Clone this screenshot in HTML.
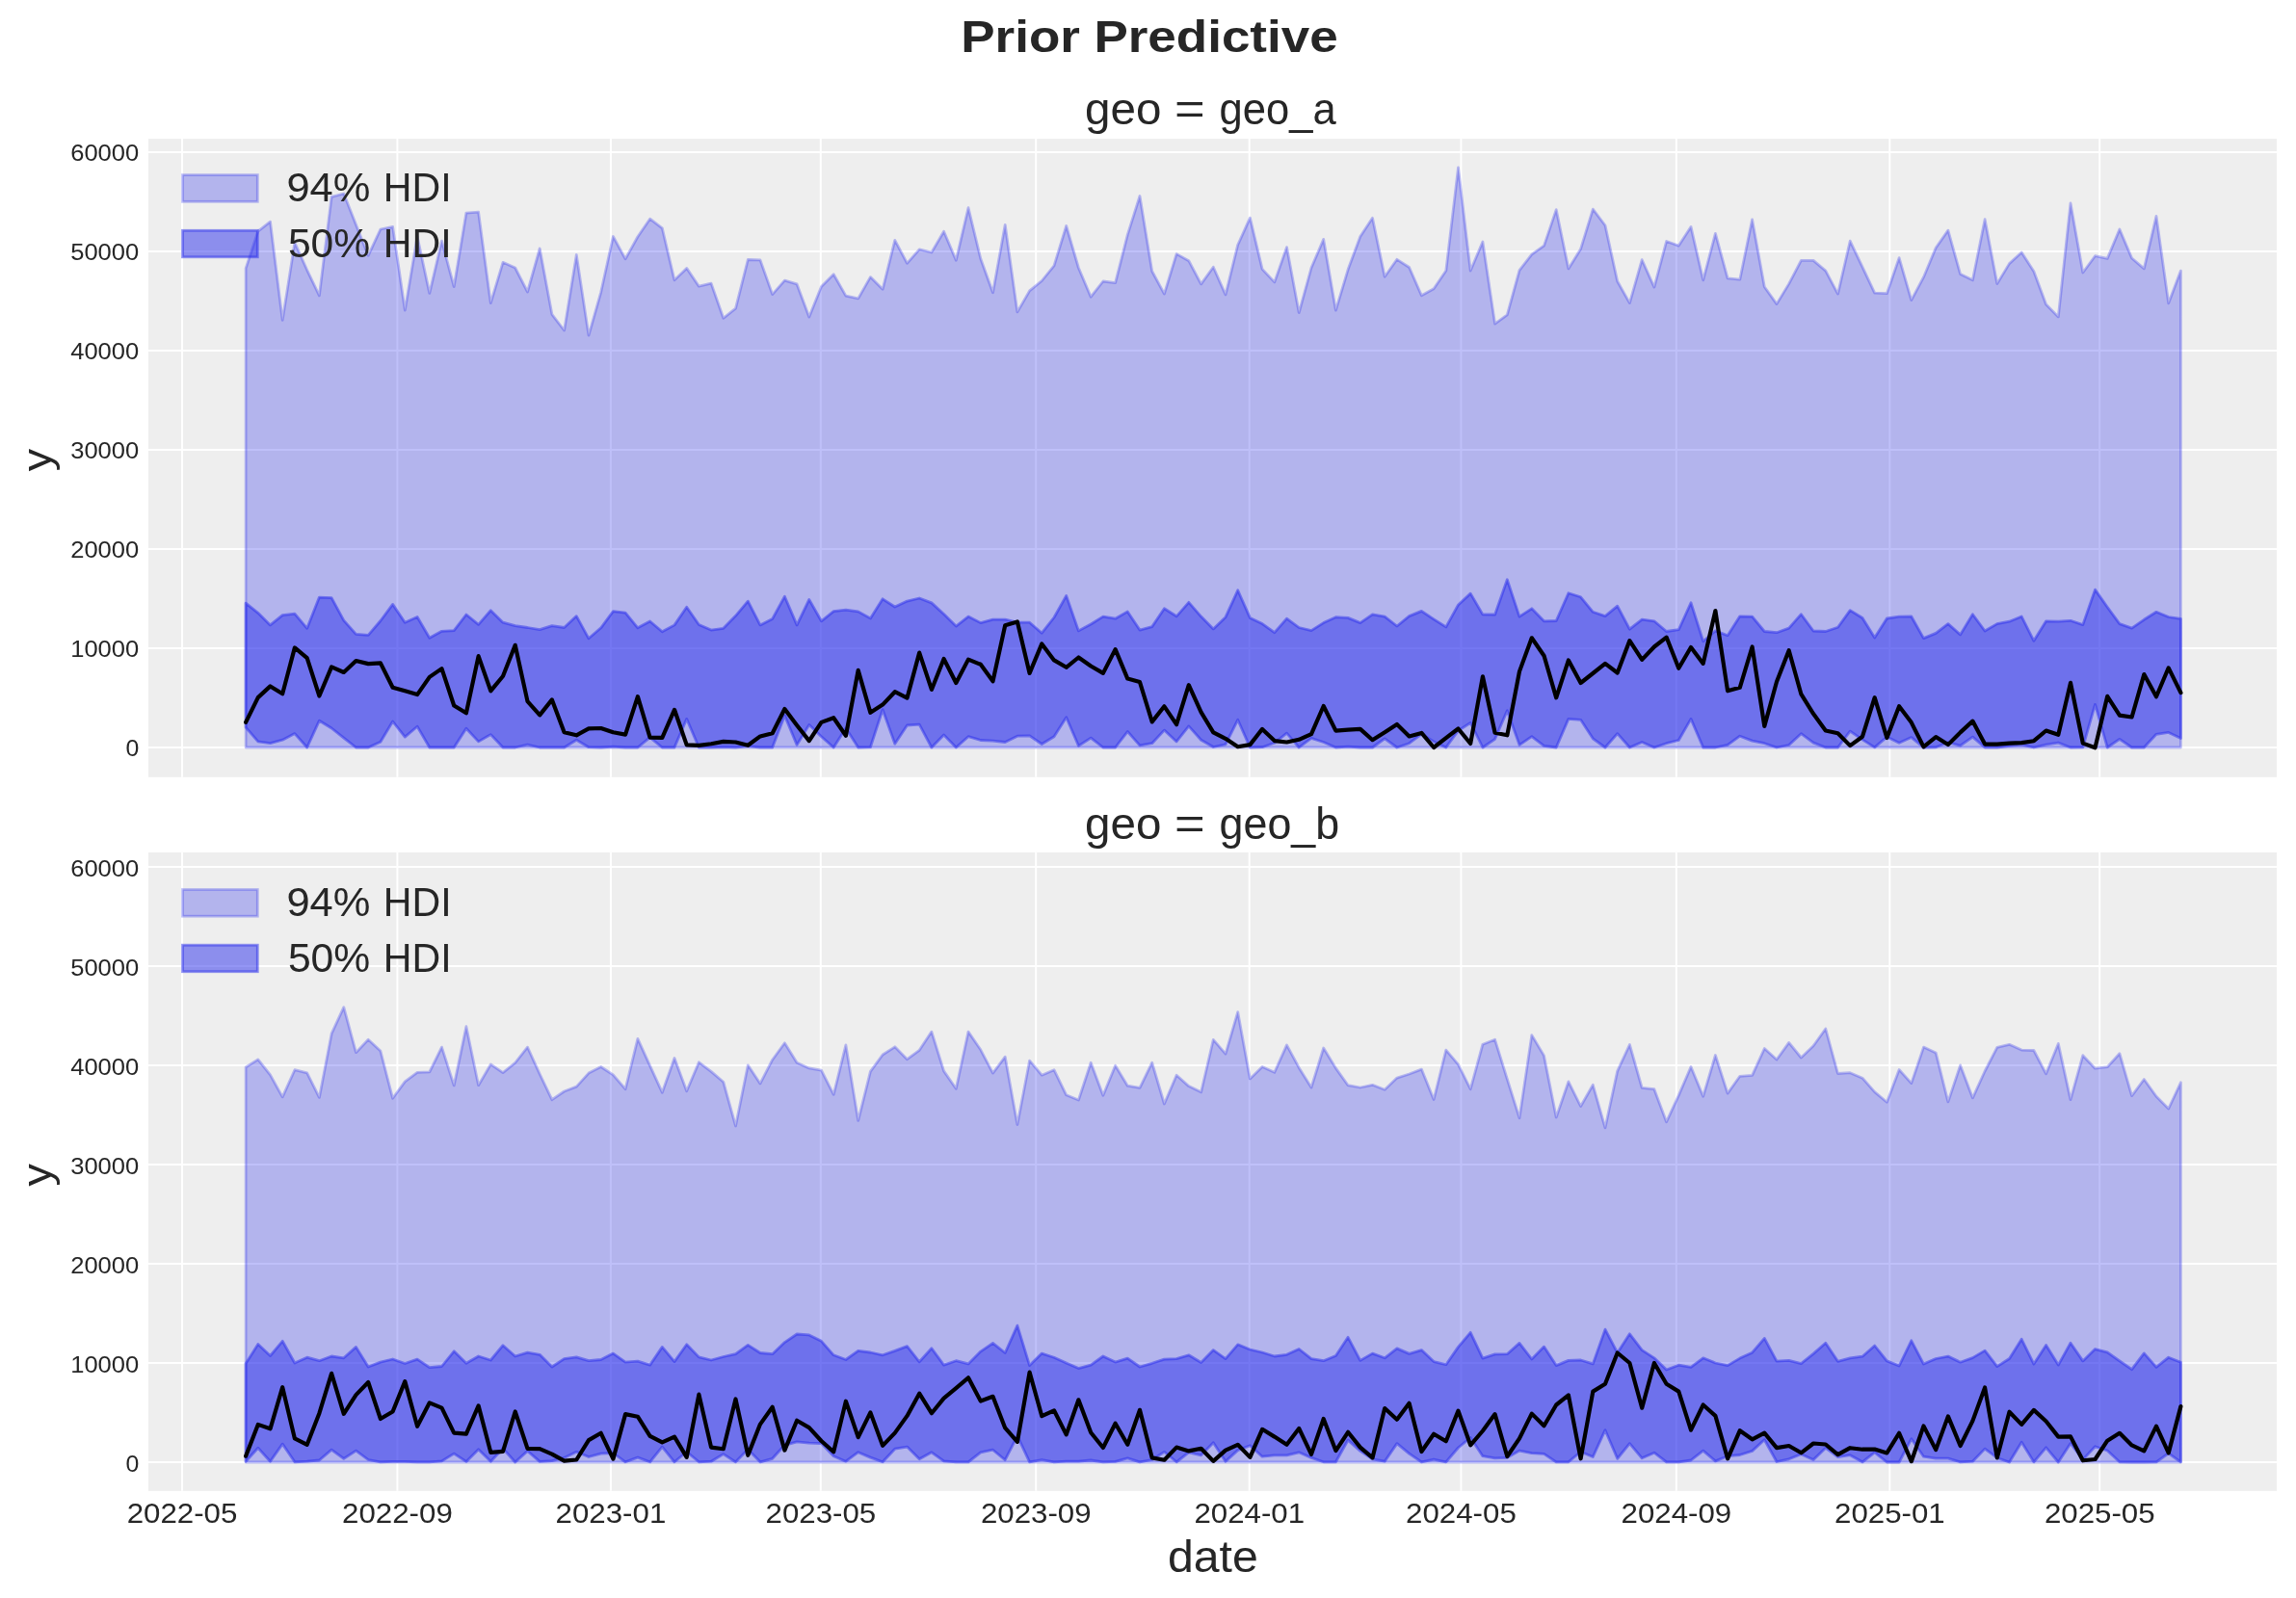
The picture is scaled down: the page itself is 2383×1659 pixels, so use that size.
<!DOCTYPE html>
<html><head><meta charset="utf-8"><title>Prior Predictive</title>
<style>html,body{margin:0;padding:0;background:#fff;overflow:hidden;}svg{display:block;will-change:transform;}text{font-family:"Liberation Sans",sans-serif;fill:#262626;}</style>
</head><body>
<svg width="2383" height="1659" viewBox="0 0 2383 1659">
<rect x="0" y="0" width="2383" height="1659" fill="#ffffff"/>
<text x="997.2" y="54.4" font-size="46" font-weight="bold" textLength="123.7" lengthAdjust="spacingAndGlyphs">Prior</text>
<text x="1135.4" y="54.4" font-size="46" font-weight="bold" textLength="253.3" lengthAdjust="spacingAndGlyphs">Predictive</text>
<g>
<rect x="154.0" y="144.1" width="2209.0" height="662.7" fill="#eeeeee"/>
<path d="M189.0,144.1 V806.8 M412.4,144.1 V806.8 M633.9,144.1 V806.8 M851.8,144.1 V806.8 M1075.2,144.1 V806.8 M1296.7,144.1 V806.8 M1516.4,144.1 V806.8 M1739.8,144.1 V806.8 M1961.3,144.1 V806.8 M2179.2,144.1 V806.8 M154.0,776.0 H2363.0 M154.0,673.0 H2363.0 M154.0,570.0 H2363.0 M154.0,467.0 H2363.0 M154.0,364.0 H2363.0 M154.0,261.0 H2363.0 M154.0,158.0 H2363.0" stroke="#ffffff" stroke-width="2.0" fill="none"/>
<clipPath id="c0"><rect x="154.0" y="144.1" width="2209.0" height="662.7"/></clipPath>
<g clip-path="url(#c0)">
<path d="M255.1,278.6 L267.8,240.2 L280.5,230.1 L293.2,332.4 L305.9,251.9 L318.7,280.3 L331.4,306.8 L344.1,204.4 L356.8,201.0 L369.5,233.3 L382.2,265.3 L394.9,238.0 L407.6,235.4 L420.3,322.0 L433.1,245.5 L445.8,304.4 L458.5,250.2 L471.2,297.6 L483.9,221.1 L496.6,220.2 L509.3,314.6 L522.0,272.3 L534.7,278.0 L547.5,303.0 L560.2,258.0 L572.9,326.3 L585.6,343.0 L598.3,264.5 L611.0,348.1 L623.7,303.3 L636.4,245.5 L649.1,268.8 L661.9,245.8 L674.6,227.2 L687.3,236.8 L700.0,290.8 L712.7,278.4 L725.4,297.2 L738.1,294.1 L750.8,330.3 L763.5,320.2 L776.3,269.5 L789.0,269.9 L801.7,305.6 L814.4,291.1 L827.1,294.9 L839.8,329.1 L852.5,297.6 L865.2,284.7 L877.9,307.1 L890.7,309.9 L903.4,287.6 L916.1,300.3 L928.8,249.3 L941.5,273.3 L954.2,258.9 L966.9,262.0 L979.6,240.2 L992.3,270.2 L1005.0,215.7 L1017.8,268.5 L1030.5,303.7 L1043.2,233.3 L1055.9,323.9 L1068.6,301.9 L1081.3,291.5 L1094.0,275.8 L1106.7,234.5 L1119.4,278.0 L1132.2,308.2 L1144.9,292.0 L1157.6,293.7 L1170.3,243.7 L1183.0,203.5 L1195.7,281.5 L1208.4,305.1 L1221.1,263.6 L1233.8,270.7 L1246.6,294.9 L1259.3,277.2 L1272.0,305.9 L1284.7,254.2 L1297.4,226.1 L1310.1,279.4 L1322.8,292.9 L1335.5,256.6 L1348.2,324.6 L1361.0,278.0 L1373.7,248.4 L1386.4,322.1 L1399.1,279.8 L1411.8,245.5 L1424.5,226.3 L1437.2,287.3 L1449.9,269.3 L1462.6,277.5 L1475.4,306.8 L1488.1,299.8 L1500.8,281.0 L1513.5,173.9 L1526.2,281.0 L1538.9,251.0 L1551.6,336.1 L1564.3,326.8 L1577.0,280.7 L1589.8,264.1 L1602.5,255.1 L1615.2,217.6 L1627.9,278.9 L1640.6,258.4 L1653.3,217.1 L1666.0,234.0 L1678.7,292.0 L1691.4,314.6 L1704.2,269.7 L1716.9,298.1 L1729.6,250.5 L1742.3,255.1 L1755.0,235.4 L1767.7,290.8 L1780.4,242.3 L1793.1,288.9 L1805.8,290.2 L1818.6,227.9 L1831.3,297.7 L1844.0,315.6 L1856.7,294.6 L1869.4,270.4 L1882.1,270.4 L1894.8,281.1 L1907.5,305.1 L1920.2,250.2 L1933.0,277.2 L1945.7,304.1 L1958.4,304.7 L1971.1,267.6 L1983.8,311.6 L1996.5,287.7 L2009.2,257.3 L2021.9,239.1 L2034.6,284.5 L2047.4,290.8 L2060.1,227.7 L2072.8,294.6 L2085.5,273.6 L2098.2,262.0 L2110.9,281.7 L2123.6,316.1 L2136.3,328.9 L2149.0,210.9 L2161.8,283.0 L2174.5,265.7 L2187.2,268.4 L2199.9,238.0 L2212.6,268.0 L2225.3,278.9 L2238.0,224.4 L2250.7,314.8 L2263.4,281.1 L2263.4,776.0 L2250.7,776.0 L2238.0,776.0 L2225.3,776.0 L2212.6,776.0 L2199.9,776.0 L2187.2,776.0 L2174.5,776.0 L2161.8,776.0 L2149.0,776.0 L2136.3,776.0 L2123.6,776.0 L2110.9,776.0 L2098.2,776.0 L2085.5,776.0 L2072.8,776.0 L2060.1,776.0 L2047.4,776.0 L2034.6,776.0 L2021.9,776.0 L2009.2,776.0 L1996.5,776.0 L1983.8,776.0 L1971.1,776.0 L1958.4,776.0 L1945.7,776.0 L1933.0,776.0 L1920.2,776.0 L1907.5,776.0 L1894.8,776.0 L1882.1,776.0 L1869.4,776.0 L1856.7,776.0 L1844.0,776.0 L1831.3,776.0 L1818.6,776.0 L1805.8,776.0 L1793.1,776.0 L1780.4,776.0 L1767.7,776.0 L1755.0,776.0 L1742.3,776.0 L1729.6,776.0 L1716.9,776.0 L1704.2,776.0 L1691.4,776.0 L1678.7,776.0 L1666.0,776.0 L1653.3,776.0 L1640.6,776.0 L1627.9,776.0 L1615.2,776.0 L1602.5,776.0 L1589.8,776.0 L1577.0,776.0 L1564.3,776.0 L1551.6,776.0 L1538.9,776.0 L1526.2,776.0 L1513.5,776.0 L1500.8,776.0 L1488.1,776.0 L1475.4,776.0 L1462.6,776.0 L1449.9,776.0 L1437.2,776.0 L1424.5,776.0 L1411.8,776.0 L1399.1,776.0 L1386.4,776.0 L1373.7,776.0 L1361.0,776.0 L1348.2,776.0 L1335.5,776.0 L1322.8,776.0 L1310.1,776.0 L1297.4,776.0 L1284.7,776.0 L1272.0,776.0 L1259.3,776.0 L1246.6,776.0 L1233.8,776.0 L1221.1,776.0 L1208.4,776.0 L1195.7,776.0 L1183.0,776.0 L1170.3,776.0 L1157.6,776.0 L1144.9,776.0 L1132.2,776.0 L1119.4,776.0 L1106.7,776.0 L1094.0,776.0 L1081.3,776.0 L1068.6,776.0 L1055.9,776.0 L1043.2,776.0 L1030.5,776.0 L1017.8,776.0 L1005.0,776.0 L992.3,776.0 L979.6,776.0 L966.9,776.0 L954.2,776.0 L941.5,776.0 L928.8,776.0 L916.1,776.0 L903.4,776.0 L890.7,776.0 L877.9,776.0 L865.2,776.0 L852.5,776.0 L839.8,776.0 L827.1,776.0 L814.4,776.0 L801.7,776.0 L789.0,776.0 L776.3,776.0 L763.5,776.0 L750.8,776.0 L738.1,776.0 L725.4,776.0 L712.7,776.0 L700.0,776.0 L687.3,776.0 L674.6,776.0 L661.9,776.0 L649.1,776.0 L636.4,776.0 L623.7,776.0 L611.0,776.0 L598.3,776.0 L585.6,776.0 L572.9,776.0 L560.2,776.0 L547.5,776.0 L534.7,776.0 L522.0,776.0 L509.3,776.0 L496.6,776.0 L483.9,776.0 L471.2,776.0 L458.5,776.0 L445.8,776.0 L433.1,776.0 L420.3,776.0 L407.6,776.0 L394.9,776.0 L382.2,776.0 L369.5,776.0 L356.8,776.0 L344.1,776.0 L331.4,776.0 L318.7,776.0 L305.9,776.0 L293.2,776.0 L280.5,776.0 L267.8,776.0 L255.1,776.0 Z" fill="rgba(42,46,236,0.3)" stroke="rgba(42,46,236,0.3)" stroke-width="2.78" stroke-linejoin="round"/>
<path d="M255.1,626.2 L267.8,636.3 L280.5,648.9 L293.2,638.7 L305.9,637.2 L318.7,652.3 L331.4,620.1 L344.1,620.6 L356.8,644.1 L369.5,658.4 L382.2,659.3 L394.9,644.5 L407.6,627.4 L420.3,646.2 L433.1,640.5 L445.8,662.3 L458.5,655.3 L471.2,654.6 L483.9,638.0 L496.6,648.3 L509.3,633.7 L522.0,646.2 L534.7,649.7 L547.5,651.5 L560.2,653.7 L572.9,649.7 L585.6,651.5 L598.3,639.6 L611.0,662.8 L623.7,651.8 L636.4,634.6 L649.1,636.1 L661.9,651.8 L674.6,645.0 L687.3,655.8 L700.0,648.9 L712.7,630.2 L725.4,648.5 L738.1,654.1 L750.8,652.3 L763.5,639.3 L776.3,624.1 L789.0,648.9 L801.7,642.4 L814.4,619.2 L827.1,648.9 L839.8,622.4 L852.5,644.8 L865.2,634.6 L877.9,633.2 L890.7,634.9 L903.4,641.9 L916.1,621.8 L928.8,630.0 L941.5,624.1 L954.2,621.0 L966.9,625.9 L979.6,637.5 L992.3,650.1 L1005.0,640.1 L1017.8,646.6 L1030.5,643.1 L1043.2,643.1 L1055.9,646.2 L1068.6,646.2 L1081.3,657.2 L1094.0,641.0 L1106.7,618.4 L1119.4,654.9 L1132.2,648.0 L1144.9,640.1 L1157.6,642.2 L1170.3,634.9 L1183.0,654.1 L1195.7,650.6 L1208.4,631.8 L1221.1,639.8 L1233.8,625.3 L1246.6,640.1 L1259.3,652.9 L1272.0,640.7 L1284.7,612.8 L1297.4,641.4 L1310.1,647.6 L1322.8,656.7 L1335.5,642.2 L1348.2,651.5 L1361.0,654.6 L1373.7,646.6 L1386.4,640.7 L1399.1,641.4 L1411.8,646.6 L1424.5,637.9 L1437.2,640.1 L1449.9,650.0 L1462.6,639.6 L1475.4,634.4 L1488.1,642.8 L1500.8,650.9 L1513.5,627.9 L1526.2,616.1 L1538.9,637.9 L1551.6,638.0 L1564.3,601.8 L1577.0,640.1 L1589.8,631.8 L1602.5,644.8 L1615.2,644.5 L1627.9,615.7 L1640.6,619.8 L1653.3,635.3 L1666.0,639.6 L1678.7,629.2 L1691.4,653.2 L1704.2,643.1 L1716.9,644.8 L1729.6,655.5 L1742.3,653.7 L1755.0,625.7 L1767.7,665.7 L1780.4,654.9 L1793.1,659.7 L1805.8,639.8 L1818.6,640.1 L1831.3,655.5 L1844.0,656.7 L1856.7,652.1 L1869.4,637.7 L1882.1,655.0 L1894.8,655.5 L1907.5,651.2 L1920.2,633.6 L1933.0,641.5 L1945.7,662.1 L1958.4,642.0 L1971.1,640.2 L1983.8,640.0 L1996.5,662.6 L2009.2,657.4 L2021.9,647.6 L2034.6,658.9 L2047.4,637.7 L2060.1,655.0 L2072.8,647.6 L2085.5,645.2 L2098.2,640.0 L2110.9,665.3 L2123.6,644.8 L2136.3,645.2 L2149.0,644.3 L2161.8,648.6 L2174.5,612.1 L2187.2,630.2 L2199.9,647.6 L2212.6,652.1 L2225.3,643.3 L2238.0,635.3 L2250.7,640.5 L2263.4,642.4 L2263.4,766.6 L2250.7,760.4 L2238.0,762.3 L2225.3,776.0 L2212.6,776.0 L2199.9,767.3 L2187.2,776.0 L2174.5,731.4 L2161.8,775.8 L2149.0,776.0 L2136.3,771.1 L2123.6,773.1 L2110.9,776.0 L2098.2,773.1 L2085.5,774.4 L2072.8,776.0 L2060.1,776.0 L2047.4,765.1 L2034.6,774.1 L2021.9,770.7 L2009.2,775.8 L1996.5,776.0 L1983.8,765.6 L1971.1,771.3 L1958.4,765.1 L1945.7,775.9 L1933.0,767.9 L1920.2,759.1 L1907.5,776.0 L1894.8,776.0 L1882.1,771.1 L1869.4,761.7 L1856.7,773.5 L1844.0,776.0 L1831.3,771.7 L1818.6,769.1 L1805.8,764.2 L1793.1,773.4 L1780.4,776.0 L1767.7,776.0 L1755.0,746.4 L1742.3,768.5 L1729.6,771.7 L1716.9,776.0 L1704.2,770.5 L1691.4,776.0 L1678.7,761.6 L1666.0,776.0 L1653.3,766.8 L1640.6,747.3 L1627.9,746.4 L1615.2,776.0 L1602.5,774.3 L1589.8,764.7 L1577.0,773.4 L1564.3,737.7 L1551.6,767.3 L1538.9,776.0 L1526.2,750.4 L1513.5,758.6 L1500.8,776.0 L1488.1,769.9 L1475.4,762.1 L1462.6,771.7 L1449.9,776.0 L1437.2,766.8 L1424.5,776.0 L1411.8,776.0 L1399.1,775.2 L1386.4,776.0 L1373.7,770.5 L1361.0,766.4 L1348.2,776.0 L1335.5,761.2 L1322.8,771.3 L1310.1,775.7 L1297.4,776.0 L1284.7,747.3 L1272.0,772.9 L1259.3,775.5 L1246.6,768.2 L1233.8,753.9 L1221.1,769.9 L1208.4,758.1 L1195.7,771.7 L1183.0,773.9 L1170.3,759.5 L1157.6,776.0 L1144.9,776.0 L1132.2,766.1 L1119.4,774.3 L1106.7,744.7 L1094.0,764.7 L1081.3,772.5 L1068.6,763.8 L1055.9,764.2 L1043.2,770.5 L1030.5,769.1 L1017.8,768.5 L1005.0,764.7 L992.3,776.0 L979.6,763.0 L966.9,776.0 L954.2,752.2 L941.5,753.0 L928.8,772.2 L916.1,736.8 L903.4,775.7 L890.7,776.0 L877.9,756.0 L865.2,776.0 L852.5,764.7 L839.8,752.5 L827.1,773.4 L814.4,742.9 L801.7,776.0 L789.0,776.0 L776.3,774.6 L763.5,776.0 L750.8,775.7 L738.1,776.0 L725.4,776.0 L712.7,746.4 L700.0,776.0 L687.3,776.0 L674.6,765.6 L661.9,776.0 L649.1,776.0 L636.4,775.2 L623.7,776.0 L611.0,775.7 L598.3,768.2 L585.6,776.0 L572.9,776.0 L560.2,776.0 L547.5,773.1 L534.7,776.0 L522.0,776.0 L509.3,762.6 L496.6,769.9 L483.9,756.3 L471.2,776.0 L458.5,776.0 L445.8,776.0 L433.1,754.3 L420.3,765.1 L407.6,749.0 L394.9,770.3 L382.2,776.0 L369.5,776.0 L356.8,766.1 L344.1,756.0 L331.4,748.2 L318.7,776.0 L305.9,761.6 L293.2,768.2 L280.5,771.7 L267.8,769.9 L255.1,755.1 Z" fill="rgba(42,46,236,0.5)" stroke="rgba(42,46,236,0.5)" stroke-width="2.78" stroke-linejoin="round"/>
<path d="M255.1,749.9 L267.8,724.1 L280.5,712.4 L293.2,720.3 L305.9,672.4 L318.7,683.2 L331.4,722.5 L344.1,692.4 L356.8,698.0 L369.5,686.0 L382.2,689.1 L394.9,688.4 L407.6,713.7 L420.3,717.3 L433.1,721.1 L445.8,702.9 L458.5,694.1 L471.2,732.5 L483.9,740.3 L496.6,681.1 L509.3,717.3 L522.0,702.0 L534.7,669.8 L547.5,728.1 L560.2,742.4 L572.9,726.4 L585.6,760.3 L598.3,763.3 L611.0,756.3 L623.7,756.0 L636.4,760.3 L649.1,762.6 L661.9,723.2 L674.6,765.6 L687.3,765.9 L700.0,736.8 L712.7,773.4 L725.4,773.9 L738.1,772.2 L750.8,769.9 L763.5,770.5 L776.3,773.8 L789.0,764.4 L801.7,761.2 L814.4,736.0 L827.1,752.9 L839.8,769.1 L852.5,749.9 L865.2,745.2 L877.9,763.8 L890.7,695.9 L903.4,739.8 L916.1,731.6 L928.8,718.2 L941.5,724.6 L954.2,677.6 L966.9,715.9 L979.6,684.0 L992.3,709.0 L1005.0,684.6 L1017.8,689.8 L1030.5,707.2 L1043.2,649.2 L1055.9,645.4 L1068.6,698.9 L1081.3,668.4 L1094.0,685.4 L1106.7,692.8 L1119.4,682.5 L1132.2,691.5 L1144.9,698.9 L1157.6,674.1 L1170.3,704.6 L1183.0,708.1 L1195.7,749.4 L1208.4,733.3 L1221.1,752.2 L1233.8,711.2 L1246.6,739.4 L1259.3,760.3 L1272.0,766.8 L1284.7,775.2 L1297.4,773.1 L1310.1,756.9 L1322.8,769.1 L1335.5,770.5 L1348.2,767.8 L1361.0,762.1 L1373.7,733.0 L1386.4,758.6 L1399.1,757.7 L1411.8,756.9 L1424.5,768.2 L1437.2,760.3 L1449.9,751.9 L1462.6,764.4 L1475.4,760.9 L1488.1,776.0 L1500.8,766.1 L1513.5,756.5 L1526.2,772.0 L1538.9,702.3 L1551.6,760.7 L1564.3,763.3 L1577.0,697.1 L1589.8,662.3 L1602.5,680.7 L1615.2,724.3 L1627.9,685.4 L1640.6,709.0 L1653.3,699.0 L1666.0,688.9 L1678.7,698.5 L1691.4,665.1 L1704.2,684.9 L1716.9,671.5 L1729.6,661.6 L1742.3,693.8 L1755.0,672.0 L1767.7,688.9 L1780.4,634.0 L1793.1,717.3 L1805.8,713.8 L1818.6,671.5 L1831.3,753.9 L1844.0,707.8 L1856.7,675.2 L1869.4,720.7 L1882.1,741.1 L1894.8,758.5 L1907.5,761.3 L1920.2,774.1 L1933.0,764.7 L1945.7,724.2 L1958.4,766.0 L1971.1,733.2 L1983.8,750.1 L1996.5,775.4 L2009.2,765.1 L2021.9,773.1 L2034.6,760.4 L2047.4,748.6 L2060.1,772.6 L2072.8,772.6 L2085.5,771.6 L2098.2,771.1 L2110.9,769.2 L2123.6,758.5 L2136.3,762.8 L2149.0,708.9 L2161.8,771.6 L2174.5,776.3 L2187.2,722.9 L2199.9,742.6 L2212.6,744.5 L2225.3,700.1 L2238.0,723.3 L2250.7,693.3 L2263.4,719.2" fill="none" stroke="#000000" stroke-width="4.17" stroke-linejoin="round" stroke-linecap="round"/>
</g>
<rect x="189.5" y="181.6" width="77.8" height="27.7" fill="rgba(42,46,236,0.3)" stroke="rgba(42,46,236,0.3)" stroke-width="2.78"/>
<rect x="189.5" y="239.3" width="77.8" height="27.5" fill="rgba(42,46,236,0.5)" stroke="rgba(42,46,236,0.5)" stroke-width="2.78"/>
<text x="297.4" y="209.3" font-size="42.4" textLength="86.9" lengthAdjust="spacingAndGlyphs">94%</text>
<text x="397.7" y="209.3" font-size="42.4" textLength="70.9" lengthAdjust="spacingAndGlyphs">HDI</text>
<text x="298.9" y="267.2" font-size="42.4" textLength="85.3" lengthAdjust="spacingAndGlyphs">50%</text>
<text x="397.7" y="267.2" font-size="42.4" textLength="70.9" lengthAdjust="spacingAndGlyphs">HDI</text>
<text x="1126.0" y="128.6" font-size="46" textLength="79.4" lengthAdjust="spacingAndGlyphs">geo</text>
<text x="1219.1" y="128.6" font-size="46" textLength="31.7" lengthAdjust="spacingAndGlyphs">=</text>
<text x="1265.6" y="128.6" font-size="46" textLength="121.1" lengthAdjust="spacingAndGlyphs">geo_a</text>
<text x="130.4" y="785.0" font-size="23.6" textLength="13.8" lengthAdjust="spacingAndGlyphs">0</text>
<text x="73.2" y="682.0" font-size="23.6" textLength="71.0" lengthAdjust="spacingAndGlyphs">10000</text>
<text x="73.2" y="579.0" font-size="23.6" textLength="71.0" lengthAdjust="spacingAndGlyphs">20000</text>
<text x="73.2" y="476.0" font-size="23.6" textLength="71.0" lengthAdjust="spacingAndGlyphs">30000</text>
<text x="73.2" y="373.0" font-size="23.6" textLength="71.0" lengthAdjust="spacingAndGlyphs">40000</text>
<text x="73.2" y="270.0" font-size="23.6" textLength="71.0" lengthAdjust="spacingAndGlyphs">50000</text>
<text x="73.2" y="167.0" font-size="23.6" textLength="71.0" lengthAdjust="spacingAndGlyphs">60000</text>
<text transform="translate(52.7,477.6) rotate(-90) scale(1.014,0.92)" font-size="46" text-anchor="middle">y</text>
</g>
<g>
<rect x="154.0" y="884.9" width="2209.0" height="662.9" fill="#eeeeee"/>
<path d="M189.0,884.9 V1547.8 M412.4,884.9 V1547.8 M633.9,884.9 V1547.8 M851.8,884.9 V1547.8 M1075.2,884.9 V1547.8 M1296.7,884.9 V1547.8 M1516.4,884.9 V1547.8 M1739.8,884.9 V1547.8 M1961.3,884.9 V1547.8 M2179.2,884.9 V1547.8 M154.0,1518.0 H2363.0 M154.0,1415.0 H2363.0 M154.0,1312.0 H2363.0 M154.0,1209.0 H2363.0 M154.0,1106.0 H2363.0 M154.0,1003.0 H2363.0 M154.0,900.0 H2363.0" stroke="#ffffff" stroke-width="2.0" fill="none"/>
<clipPath id="c1"><rect x="154.0" y="884.9" width="2209.0" height="662.9"/></clipPath>
<g clip-path="url(#c1)">
<path d="M255.1,1108.0 L267.8,1099.9 L280.5,1115.9 L293.2,1138.9 L305.9,1110.7 L318.7,1113.8 L331.4,1139.4 L344.1,1073.2 L356.8,1045.7 L369.5,1092.7 L382.2,1079.3 L394.9,1091.0 L407.6,1140.3 L420.3,1122.9 L433.1,1113.3 L445.8,1112.9 L458.5,1087.1 L471.2,1126.9 L483.9,1065.7 L496.6,1126.7 L509.3,1104.9 L522.0,1113.6 L534.7,1103.3 L547.5,1087.1 L560.2,1115.0 L572.9,1141.7 L585.6,1133.0 L598.3,1128.1 L611.0,1114.1 L623.7,1107.5 L636.4,1115.9 L649.1,1130.7 L661.9,1078.4 L674.6,1106.3 L687.3,1134.2 L700.0,1098.5 L712.7,1132.8 L725.4,1102.8 L738.1,1112.4 L750.8,1123.2 L763.5,1169.0 L776.3,1105.8 L789.0,1124.9 L801.7,1100.2 L814.4,1082.8 L827.1,1103.3 L839.8,1108.9 L852.5,1111.2 L865.2,1136.3 L877.9,1084.9 L890.7,1163.4 L903.4,1112.4 L916.1,1095.0 L928.8,1086.8 L941.5,1099.7 L954.2,1090.3 L966.9,1071.1 L979.6,1111.9 L992.3,1130.3 L1005.0,1071.1 L1017.8,1089.8 L1030.5,1114.1 L1043.2,1097.1 L1055.9,1167.6 L1068.6,1101.1 L1081.3,1116.2 L1094.0,1110.7 L1106.7,1136.8 L1119.4,1142.0 L1132.2,1103.2 L1144.9,1137.3 L1157.6,1106.3 L1170.3,1127.2 L1183.0,1129.3 L1195.7,1103.2 L1208.4,1146.0 L1221.1,1116.2 L1233.8,1127.6 L1246.6,1133.8 L1259.3,1079.3 L1272.0,1094.1 L1284.7,1050.6 L1297.4,1119.9 L1310.1,1107.5 L1322.8,1113.3 L1335.5,1084.9 L1348.2,1108.4 L1361.0,1129.0 L1373.7,1088.0 L1386.4,1108.9 L1399.1,1126.7 L1411.8,1129.0 L1424.5,1126.3 L1437.2,1131.2 L1449.9,1119.1 L1462.6,1115.0 L1475.4,1110.1 L1488.1,1141.5 L1500.8,1090.1 L1513.5,1105.1 L1526.2,1130.7 L1538.9,1084.2 L1551.6,1079.3 L1564.3,1120.2 L1577.0,1160.7 L1589.8,1074.6 L1602.5,1095.9 L1615.2,1160.0 L1627.9,1122.9 L1640.6,1148.5 L1653.3,1126.3 L1666.0,1170.8 L1678.7,1111.9 L1691.4,1084.5 L1704.2,1129.3 L1716.9,1130.7 L1729.6,1164.7 L1742.3,1137.1 L1755.0,1107.5 L1767.7,1138.2 L1780.4,1095.5 L1793.1,1135.1 L1805.8,1117.3 L1818.6,1116.4 L1831.3,1088.5 L1844.0,1100.0 L1856.7,1082.4 L1869.4,1098.0 L1882.1,1085.8 L1894.8,1068.0 L1907.5,1114.5 L1920.2,1113.7 L1933.0,1119.2 L1945.7,1133.6 L1958.4,1144.2 L1971.1,1110.5 L1983.8,1124.6 L1996.5,1087.1 L2009.2,1092.9 L2021.9,1143.9 L2034.6,1105.9 L2047.4,1139.8 L2060.1,1112.0 L2072.8,1087.3 L2085.5,1084.3 L2098.2,1090.1 L2110.9,1090.5 L2123.6,1114.8 L2136.3,1083.4 L2149.0,1141.6 L2161.8,1095.7 L2174.5,1109.2 L2187.2,1107.7 L2199.9,1093.7 L2212.6,1137.7 L2225.3,1120.5 L2238.0,1138.3 L2250.7,1151.0 L2263.4,1123.8 L2263.4,1518.0 L2250.7,1518.0 L2238.0,1518.0 L2225.3,1518.0 L2212.6,1518.0 L2199.9,1518.0 L2187.2,1518.0 L2174.5,1518.0 L2161.8,1518.0 L2149.0,1518.0 L2136.3,1518.0 L2123.6,1518.0 L2110.9,1518.0 L2098.2,1518.0 L2085.5,1518.0 L2072.8,1518.0 L2060.1,1518.0 L2047.4,1518.0 L2034.6,1518.0 L2021.9,1518.0 L2009.2,1518.0 L1996.5,1518.0 L1983.8,1518.0 L1971.1,1518.0 L1958.4,1518.0 L1945.7,1518.0 L1933.0,1518.0 L1920.2,1518.0 L1907.5,1518.0 L1894.8,1518.0 L1882.1,1518.0 L1869.4,1518.0 L1856.7,1518.0 L1844.0,1518.0 L1831.3,1518.0 L1818.6,1518.0 L1805.8,1518.0 L1793.1,1518.0 L1780.4,1518.0 L1767.7,1518.0 L1755.0,1518.0 L1742.3,1518.0 L1729.6,1518.0 L1716.9,1518.0 L1704.2,1518.0 L1691.4,1518.0 L1678.7,1518.0 L1666.0,1518.0 L1653.3,1518.0 L1640.6,1518.0 L1627.9,1518.0 L1615.2,1518.0 L1602.5,1518.0 L1589.8,1518.0 L1577.0,1518.0 L1564.3,1518.0 L1551.6,1518.0 L1538.9,1518.0 L1526.2,1518.0 L1513.5,1518.0 L1500.8,1518.0 L1488.1,1518.0 L1475.4,1518.0 L1462.6,1518.0 L1449.9,1518.0 L1437.2,1518.0 L1424.5,1518.0 L1411.8,1518.0 L1399.1,1518.0 L1386.4,1518.0 L1373.7,1518.0 L1361.0,1518.0 L1348.2,1518.0 L1335.5,1518.0 L1322.8,1518.0 L1310.1,1518.0 L1297.4,1518.0 L1284.7,1518.0 L1272.0,1518.0 L1259.3,1518.0 L1246.6,1518.0 L1233.8,1518.0 L1221.1,1518.0 L1208.4,1518.0 L1195.7,1518.0 L1183.0,1518.0 L1170.3,1518.0 L1157.6,1518.0 L1144.9,1518.0 L1132.2,1518.0 L1119.4,1518.0 L1106.7,1518.0 L1094.0,1518.0 L1081.3,1518.0 L1068.6,1518.0 L1055.9,1518.0 L1043.2,1518.0 L1030.5,1518.0 L1017.8,1518.0 L1005.0,1518.0 L992.3,1518.0 L979.6,1518.0 L966.9,1518.0 L954.2,1518.0 L941.5,1518.0 L928.8,1518.0 L916.1,1518.0 L903.4,1518.0 L890.7,1518.0 L877.9,1518.0 L865.2,1518.0 L852.5,1518.0 L839.8,1518.0 L827.1,1518.0 L814.4,1518.0 L801.7,1518.0 L789.0,1518.0 L776.3,1518.0 L763.5,1518.0 L750.8,1518.0 L738.1,1518.0 L725.4,1518.0 L712.7,1518.0 L700.0,1518.0 L687.3,1518.0 L674.6,1518.0 L661.9,1518.0 L649.1,1518.0 L636.4,1518.0 L623.7,1518.0 L611.0,1518.0 L598.3,1518.0 L585.6,1518.0 L572.9,1518.0 L560.2,1518.0 L547.5,1518.0 L534.7,1518.0 L522.0,1518.0 L509.3,1518.0 L496.6,1518.0 L483.9,1518.0 L471.2,1518.0 L458.5,1518.0 L445.8,1518.0 L433.1,1518.0 L420.3,1518.0 L407.6,1518.0 L394.9,1518.0 L382.2,1518.0 L369.5,1518.0 L356.8,1518.0 L344.1,1518.0 L331.4,1518.0 L318.7,1518.0 L305.9,1518.0 L293.2,1518.0 L280.5,1518.0 L267.8,1518.0 L255.1,1518.0 Z" fill="rgba(42,46,236,0.3)" stroke="rgba(42,46,236,0.3)" stroke-width="2.78" stroke-linejoin="round"/>
<path d="M255.1,1415.5 L267.8,1395.5 L280.5,1407.5 L293.2,1392.3 L305.9,1415.0 L318.7,1409.2 L331.4,1412.7 L344.1,1408.0 L356.8,1409.8 L369.5,1398.4 L382.2,1419.0 L394.9,1414.1 L407.6,1411.0 L420.3,1415.5 L433.1,1411.1 L445.8,1419.7 L458.5,1418.5 L471.2,1402.8 L483.9,1415.3 L496.6,1408.0 L509.3,1412.0 L522.0,1396.7 L534.7,1408.0 L547.5,1404.2 L560.2,1406.3 L572.9,1419.0 L585.6,1410.6 L598.3,1408.9 L611.0,1412.7 L623.7,1411.5 L636.4,1405.1 L649.1,1414.1 L661.9,1413.2 L674.6,1417.1 L687.3,1398.4 L700.0,1413.6 L712.7,1395.8 L725.4,1408.9 L738.1,1412.0 L750.8,1408.5 L763.5,1405.7 L776.3,1396.3 L789.0,1404.5 L801.7,1405.7 L814.4,1393.6 L827.1,1385.0 L839.8,1385.9 L852.5,1392.3 L865.2,1406.8 L877.9,1411.5 L890.7,1402.3 L903.4,1404.0 L916.1,1406.8 L928.8,1402.4 L941.5,1397.6 L954.2,1413.8 L966.9,1399.7 L979.6,1417.1 L992.3,1412.7 L1005.0,1415.9 L1017.8,1403.1 L1030.5,1394.4 L1043.2,1404.5 L1055.9,1376.1 L1068.6,1417.6 L1081.3,1405.1 L1094.0,1409.2 L1106.7,1415.0 L1119.4,1420.6 L1132.2,1417.1 L1144.9,1408.0 L1157.6,1414.1 L1170.3,1410.1 L1183.0,1419.0 L1195.7,1415.3 L1208.4,1411.1 L1221.1,1410.6 L1233.8,1406.8 L1246.6,1414.5 L1259.3,1401.6 L1272.0,1410.6 L1284.7,1395.8 L1297.4,1401.0 L1310.1,1404.0 L1322.8,1408.0 L1335.5,1406.3 L1348.2,1400.5 L1361.0,1410.6 L1373.7,1412.7 L1386.4,1407.5 L1399.1,1388.3 L1411.8,1412.4 L1424.5,1405.1 L1437.2,1409.8 L1449.9,1399.9 L1462.6,1405.4 L1475.4,1401.6 L1488.1,1413.6 L1500.8,1416.7 L1513.5,1398.4 L1526.2,1383.3 L1538.9,1410.1 L1551.6,1405.9 L1564.3,1405.7 L1577.0,1394.4 L1589.8,1411.0 L1602.5,1398.1 L1615.2,1417.6 L1627.9,1412.4 L1640.6,1412.0 L1653.3,1415.9 L1666.0,1380.1 L1678.7,1404.5 L1691.4,1384.8 L1704.2,1401.6 L1716.9,1409.8 L1729.6,1422.0 L1742.3,1417.2 L1755.0,1419.3 L1767.7,1409.8 L1780.4,1415.0 L1793.1,1417.6 L1805.8,1410.1 L1818.6,1404.2 L1831.3,1389.4 L1844.0,1413.1 L1856.7,1412.4 L1869.4,1415.6 L1882.1,1405.4 L1894.8,1394.2 L1907.5,1413.3 L1920.2,1409.9 L1933.0,1408.2 L1945.7,1397.0 L1958.4,1412.9 L1971.1,1418.0 L1983.8,1391.8 L1996.5,1416.1 L2009.2,1410.5 L2021.9,1408.1 L2034.6,1414.2 L2047.4,1409.6 L2060.1,1402.1 L2072.8,1418.6 L2085.5,1410.5 L2098.2,1390.3 L2110.9,1416.1 L2123.6,1396.5 L2136.3,1417.1 L2149.0,1394.2 L2161.8,1412.9 L2174.5,1400.6 L2187.2,1403.9 L2199.9,1412.9 L2212.6,1421.7 L2225.3,1404.9 L2238.0,1419.3 L2250.7,1409.2 L2263.4,1414.2 L2263.4,1517.8 L2250.7,1508.8 L2238.0,1517.8 L2225.3,1518.0 L2212.6,1518.0 L2199.9,1517.8 L2187.2,1506.0 L2174.5,1501.7 L2161.8,1515.4 L2149.0,1498.5 L2136.3,1518.0 L2123.6,1502.8 L2110.9,1517.8 L2098.2,1497.2 L2085.5,1518.0 L2072.8,1513.5 L2060.1,1504.1 L2047.4,1517.2 L2034.6,1517.8 L2021.9,1514.1 L2009.2,1514.1 L1996.5,1512.2 L1983.8,1493.8 L1971.1,1518.0 L1958.4,1518.0 L1945.7,1507.9 L1933.0,1517.8 L1920.2,1510.7 L1907.5,1512.6 L1894.8,1503.2 L1882.1,1515.4 L1869.4,1509.8 L1856.7,1514.8 L1844.0,1517.5 L1831.3,1494.8 L1818.6,1506.4 L1805.8,1510.5 L1793.1,1511.7 L1780.4,1516.9 L1767.7,1506.1 L1755.0,1516.0 L1742.3,1517.8 L1729.6,1517.8 L1716.9,1508.2 L1704.2,1513.8 L1691.4,1498.6 L1678.7,1514.3 L1666.0,1484.7 L1653.3,1512.5 L1640.6,1507.3 L1627.9,1517.8 L1615.2,1517.8 L1602.5,1509.4 L1589.8,1508.7 L1577.0,1506.1 L1564.3,1513.4 L1551.6,1513.8 L1538.9,1511.7 L1526.2,1492.5 L1513.5,1503.0 L1500.8,1517.8 L1488.1,1515.2 L1475.4,1517.8 L1462.6,1509.1 L1449.9,1498.6 L1437.2,1517.2 L1424.5,1514.8 L1411.8,1506.4 L1399.1,1495.1 L1386.4,1517.8 L1373.7,1517.8 L1361.0,1513.4 L1348.2,1507.8 L1335.5,1510.8 L1322.8,1510.8 L1310.1,1512.2 L1297.4,1500.7 L1284.7,1505.6 L1272.0,1517.2 L1259.3,1497.7 L1246.6,1510.8 L1233.8,1507.8 L1221.1,1517.8 L1208.4,1507.3 L1195.7,1515.5 L1183.0,1517.8 L1170.3,1513.9 L1157.6,1517.4 L1144.9,1517.8 L1132.2,1516.0 L1119.4,1517.2 L1106.7,1517.2 L1094.0,1517.8 L1081.3,1515.5 L1068.6,1517.8 L1055.9,1490.8 L1043.2,1515.7 L1030.5,1505.2 L1017.8,1507.8 L1005.0,1517.8 L992.3,1517.8 L979.6,1516.9 L966.9,1507.8 L954.2,1514.8 L941.5,1502.1 L928.8,1504.2 L916.1,1517.8 L903.4,1513.1 L890.7,1507.7 L877.9,1517.2 L865.2,1511.7 L852.5,1498.6 L839.8,1498.1 L827.1,1496.9 L814.4,1500.3 L801.7,1514.3 L789.0,1517.8 L776.3,1504.7 L763.5,1517.8 L750.8,1509.6 L738.1,1517.2 L725.4,1517.8 L712.7,1507.3 L700.0,1517.8 L687.3,1502.1 L674.6,1517.8 L661.9,1513.1 L649.1,1517.8 L636.4,1508.5 L623.7,1509.1 L611.0,1512.5 L598.3,1507.3 L585.6,1513.4 L572.9,1516.6 L560.2,1517.4 L547.5,1506.4 L534.7,1518.0 L522.0,1503.8 L509.3,1517.2 L496.6,1504.7 L483.9,1517.4 L471.2,1509.1 L458.5,1516.9 L445.8,1517.8 L433.1,1517.8 L420.3,1517.4 L407.6,1517.4 L394.9,1517.8 L382.2,1515.5 L369.5,1506.1 L356.8,1514.3 L344.1,1505.1 L331.4,1516.0 L318.7,1517.2 L305.9,1517.8 L293.2,1499.1 L280.5,1517.2 L267.8,1503.3 L255.1,1517.2 Z" fill="rgba(42,46,236,0.5)" stroke="rgba(42,46,236,0.5)" stroke-width="2.78" stroke-linejoin="round"/>
<path d="M255.1,1511.7 L267.8,1478.9 L280.5,1483.3 L293.2,1440.2 L305.9,1493.4 L318.7,1499.8 L331.4,1467.2 L344.1,1425.8 L356.8,1467.8 L369.5,1448.1 L382.2,1435.0 L394.9,1473.0 L407.6,1465.5 L420.3,1434.1 L433.1,1480.8 L445.8,1456.3 L458.5,1461.7 L471.2,1487.6 L483.9,1488.7 L496.6,1459.4 L509.3,1507.8 L522.0,1506.8 L534.7,1465.5 L547.5,1503.8 L560.2,1504.2 L572.9,1509.6 L585.6,1516.6 L598.3,1515.5 L611.0,1495.1 L623.7,1487.8 L636.4,1514.6 L649.1,1468.1 L661.9,1470.7 L674.6,1490.8 L687.3,1497.4 L700.0,1491.6 L712.7,1512.9 L725.4,1447.6 L738.1,1502.6 L750.8,1504.2 L763.5,1452.4 L776.3,1510.8 L789.0,1478.6 L801.7,1460.8 L814.4,1505.6 L827.1,1474.7 L839.8,1482.1 L852.5,1496.0 L865.2,1507.3 L877.9,1454.7 L890.7,1492.2 L903.4,1466.4 L916.1,1500.9 L928.8,1487.6 L941.5,1469.9 L954.2,1446.7 L966.9,1467.2 L979.6,1451.6 L992.3,1441.1 L1005.0,1430.3 L1017.8,1454.5 L1030.5,1449.8 L1043.2,1482.4 L1055.9,1496.9 L1068.6,1424.6 L1081.3,1470.2 L1094.0,1464.3 L1106.7,1489.4 L1119.4,1453.3 L1132.2,1487.3 L1144.9,1503.0 L1157.6,1477.7 L1170.3,1499.8 L1183.0,1463.8 L1195.7,1513.4 L1208.4,1515.7 L1221.1,1502.6 L1233.8,1506.4 L1246.6,1503.8 L1259.3,1516.9 L1272.0,1505.6 L1284.7,1499.8 L1297.4,1512.9 L1310.1,1483.8 L1322.8,1491.6 L1335.5,1499.8 L1348.2,1482.9 L1361.0,1509.9 L1373.7,1473.0 L1386.4,1506.1 L1399.1,1486.8 L1411.8,1502.6 L1424.5,1513.4 L1437.2,1462.0 L1449.9,1473.7 L1462.6,1456.8 L1475.4,1507.0 L1488.1,1488.7 L1500.8,1496.3 L1513.5,1464.6 L1526.2,1500.3 L1538.9,1485.5 L1551.6,1468.1 L1564.3,1512.0 L1577.0,1493.4 L1589.8,1467.6 L1602.5,1480.3 L1615.2,1458.5 L1627.9,1448.4 L1640.6,1514.3 L1653.3,1444.6 L1666.0,1436.8 L1678.7,1404.5 L1691.4,1415.0 L1704.2,1461.7 L1716.9,1415.0 L1729.6,1436.8 L1742.3,1444.6 L1755.0,1484.7 L1767.7,1458.5 L1780.4,1469.9 L1793.1,1514.3 L1805.8,1485.2 L1818.6,1494.3 L1831.3,1487.6 L1844.0,1503.1 L1856.7,1501.0 L1869.4,1508.3 L1882.1,1498.5 L1894.8,1499.5 L1907.5,1510.1 L1920.2,1503.2 L1933.0,1504.7 L1945.7,1504.5 L1958.4,1508.4 L1971.1,1487.8 L1983.8,1517.2 L1996.5,1480.4 L2009.2,1505.1 L2021.9,1470.4 L2034.6,1501.0 L2047.4,1475.1 L2060.1,1440.5 L2072.8,1513.5 L2085.5,1465.7 L2098.2,1478.9 L2110.9,1463.9 L2123.6,1475.5 L2136.3,1491.6 L2149.0,1491.4 L2161.8,1516.3 L2174.5,1515.0 L2187.2,1495.7 L2199.9,1487.8 L2212.6,1500.4 L2225.3,1506.4 L2238.0,1480.7 L2250.7,1508.4 L2263.4,1460.1" fill="none" stroke="#000000" stroke-width="4.17" stroke-linejoin="round" stroke-linecap="round"/>
</g>
<rect x="189.5" y="923.5" width="77.8" height="27.7" fill="rgba(42,46,236,0.3)" stroke="rgba(42,46,236,0.3)" stroke-width="2.78"/>
<rect x="189.5" y="981.2" width="77.8" height="27.5" fill="rgba(42,46,236,0.5)" stroke="rgba(42,46,236,0.5)" stroke-width="2.78"/>
<text x="297.4" y="951.2" font-size="42.4" textLength="86.9" lengthAdjust="spacingAndGlyphs">94%</text>
<text x="397.7" y="951.2" font-size="42.4" textLength="70.9" lengthAdjust="spacingAndGlyphs">HDI</text>
<text x="298.9" y="1009.1" font-size="42.4" textLength="85.3" lengthAdjust="spacingAndGlyphs">50%</text>
<text x="397.7" y="1009.1" font-size="42.4" textLength="70.9" lengthAdjust="spacingAndGlyphs">HDI</text>
<text x="1126.0" y="870.5" font-size="46" textLength="79.4" lengthAdjust="spacingAndGlyphs">geo</text>
<text x="1219.1" y="870.5" font-size="46" textLength="31.7" lengthAdjust="spacingAndGlyphs">=</text>
<text x="1265.6" y="870.5" font-size="46" textLength="124.5" lengthAdjust="spacingAndGlyphs">geo_b</text>
<text x="130.4" y="1527.8" font-size="23.6" textLength="13.8" lengthAdjust="spacingAndGlyphs">0</text>
<text x="73.2" y="1424.8" font-size="23.6" textLength="71.0" lengthAdjust="spacingAndGlyphs">10000</text>
<text x="73.2" y="1321.8" font-size="23.6" textLength="71.0" lengthAdjust="spacingAndGlyphs">20000</text>
<text x="73.2" y="1218.8" font-size="23.6" textLength="71.0" lengthAdjust="spacingAndGlyphs">30000</text>
<text x="73.2" y="1115.8" font-size="23.6" textLength="71.0" lengthAdjust="spacingAndGlyphs">40000</text>
<text x="73.2" y="1012.8" font-size="23.6" textLength="71.0" lengthAdjust="spacingAndGlyphs">50000</text>
<text x="73.2" y="909.8" font-size="23.6" textLength="71.0" lengthAdjust="spacingAndGlyphs">60000</text>
<text transform="translate(52.7,1219.8) rotate(-90) scale(1.014,0.92)" font-size="46" text-anchor="middle">y</text>
</g>
<text x="131.7" y="1580.9" font-size="29.6" textLength="114.7" lengthAdjust="spacingAndGlyphs">2022-05</text>
<text x="355.1" y="1580.9" font-size="29.6" textLength="114.7" lengthAdjust="spacingAndGlyphs">2022-09</text>
<text x="576.6" y="1580.9" font-size="29.6" textLength="114.7" lengthAdjust="spacingAndGlyphs">2023-01</text>
<text x="794.5" y="1580.9" font-size="29.6" textLength="114.7" lengthAdjust="spacingAndGlyphs">2023-05</text>
<text x="1017.9" y="1580.9" font-size="29.6" textLength="114.7" lengthAdjust="spacingAndGlyphs">2023-09</text>
<text x="1239.4" y="1580.9" font-size="29.6" textLength="114.7" lengthAdjust="spacingAndGlyphs">2024-01</text>
<text x="1459.1" y="1580.9" font-size="29.6" textLength="114.7" lengthAdjust="spacingAndGlyphs">2024-05</text>
<text x="1682.5" y="1580.9" font-size="29.6" textLength="114.7" lengthAdjust="spacingAndGlyphs">2024-09</text>
<text x="1904.0" y="1580.9" font-size="29.6" textLength="114.7" lengthAdjust="spacingAndGlyphs">2025-01</text>
<text x="2121.9" y="1580.9" font-size="29.6" textLength="114.7" lengthAdjust="spacingAndGlyphs">2025-05</text>
<text x="1212.0" y="1631.7" font-size="46" textLength="93.8" lengthAdjust="spacingAndGlyphs">date</text>
</svg></body></html>
